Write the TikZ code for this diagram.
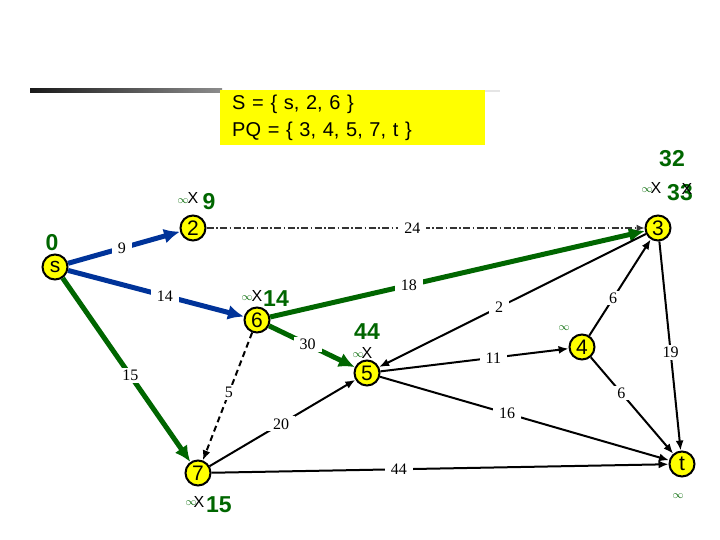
\documentclass[tikz,border=0pt]{standalone}
\usepackage{fontspec}
\setmainfont{Liberation Sans}
\newfontfamily\weightfont{Liberation Serif}
\usetikzlibrary{arrows.meta, positioning, calc}

\definecolor{pathblue}{RGB}{0,51,153}
\definecolor{treegreen}{RGB}{0,102,0}
\definecolor{markyellow}{RGB}{255,255,0}

\begin{document}
\begin{tikzpicture}[
    x=1pt, y=-1pt,
    vertex/.style={circle, draw=black, line width=2pt, fill=markyellow, minimum size=25pt, inner sep=0pt, font=\fontsize{21}{21}\selectfont},
    setbox/.style={rectangle, fill=markyellow, anchor=north west, align=left, text width=241pt, inner xsep=12pt, minimum height=55pt, font=\fontsize{20}{27}\selectfont},
    weight/.style={fill=white, inner xsep=6pt, inner ysep=2pt, font=\weightfont\fontsize{16}{16}\selectfont},
    dist/.style={text=treegreen, inner sep=0pt, font=\fontsize{23}{23}\selectfont\bfseries},
    cross/.style={inner sep=0pt, font=\fontsize{16}{16}\selectfont},
    inf/.style={text=treegreen, inner sep=0pt, font=\fontsize{11}{11}\selectfont},
    arrow/.style={-{Latex[length=10pt, width=8pt]}, line width=2pt, draw=black},
    bluearrow/.style={-{Latex[length=16pt, width=15pt]}, line width=5pt, draw=pathblue},
    greenarrow/.style={-{Latex[length=16pt, width=15pt]}, line width=5pt, draw=treegreen},
    skiparrow/.style={-{Latex[length=8pt, width=7pt]}, line width=1.3pt, draw=black!80, dash pattern=on 7pt off 2.5pt on 1.5pt off 2.5pt}
]
    \useasboundingbox (0,0) rectangle (720,540);

    % Header: rule and current sets
    \shade [left color=black!90, right color=black!45] (30,89) rectangle (222,93);
    \fill [black!10] (222,90) rectangle (500,92);
    \node (sets) [setbox] at (220,90) {S = \{ s, 2, 6 \}\\PQ = \{ 3, 4, 5, 7, t \}};

    % Vertices
    \node (s) [vertex] at (55,267) {s};
    \node (n2) [vertex] at (193,228) {2};
    \node (n3) [vertex] at (658,228) {3};
    \node (n6) [vertex] at (257,320) {6};
    \node (n5) [vertex] at (367,373) {5};
    \node (n4) [vertex] at (582,347) {4};
    \node (n7) [vertex] at (198,473) {7};
    \node (t) [vertex] at (682,464) {t};

    % Settled edges
    \draw [bluearrow] (s) -- node[weight, pos=0.48] {9} (n2);
    \draw [bluearrow] (s) -- node[weight, pos=0.55] {14} (n6);
    \draw [greenarrow] (s) -- node[weight, pos=0.53] {15} (n7);
    \draw [greenarrow] (n6) -- node[weight, pos=0.37] {18} (n3);
    \draw [greenarrow] (n6) -- node[weight, pos=0.45] {30} (n5);

    % Edges not yet relaxed
    \draw [skiparrow] (n2) -- node[weight, pos=0.47] {24} (n3);
    \draw [arrow, dash pattern=on 6pt off 4pt] (n6) -- node[weight, pos=0.47] {5} (n7);
    \draw [arrow] (n3) -- node[weight, pos=0.55] {2} (n5);
    \draw [arrow] (n3) -- node[weight, pos=0.53] {19} (t);
    \draw [arrow] (n4) -- node[weight, pos=0.39] {6} (n3);
    \draw [arrow] (n4) -- node[weight, pos=0.37] {6} (t);
    \draw [arrow] (n5) -- node[weight, pos=0.6] {11} (n4);
    \draw [arrow] (n5) -- node[weight, pos=0.44] {16} (t);
    \draw [arrow] (n7) -- node[weight, pos=0.49] {20} (n5);
    \draw [arrow] (n7) -- node[weight, pos=0.41] {44} (t);

    % Distance labels
    \node (ds) [dist] at (52,243) {0};
    \node (inf2) [inf] at (183,201) {$\infty$};
    \node (x2) [cross] at (193,198) {X};
    \node (d2) [dist] at (209,202) {9};
    \node (inf6) [inf] at (247,298) {$\infty$};
    \node (x6) [cross] at (257,296) {X};
    \node (d6) [dist] at (276,299) {14};
    \node (d5) [dist] at (367,332) {44};
    \node (inf5) [inf] at (358,355) {$\infty$};
    \node (x5) [cross] at (367,353) {X};
    \node (inf4) [inf] at (564,328) {$\infty$};
    \node (d3new) [dist] at (672,159) {32};
    \node (inf3) [inf] at (647,190) {$\infty$};
    \node (x3) [cross] at (656,188) {X};
    \node (d3) [dist] at (680,193) {33};
    \node (x3b) [cross] at (687,189) {X};
    \node (inf7) [inf] at (191,503) {$\infty$};
    \node (x7) [cross] at (199,502) {X};
    \node (d7) [dist] at (219,505) {15};
    \node (inft) [inf] at (678,496) {$\infty$};
\end{tikzpicture}
\end{document}
